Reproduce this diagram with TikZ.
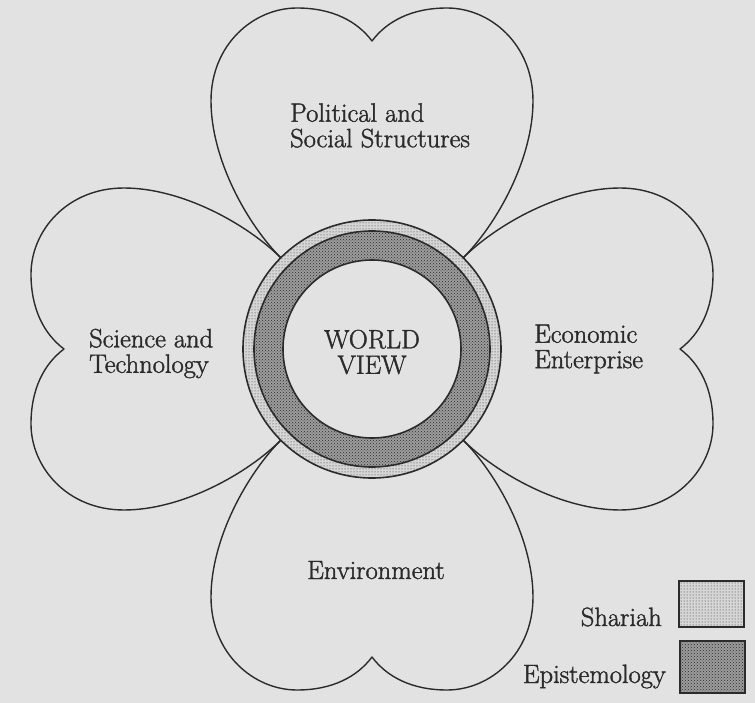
\documentclass[tikz,border=0pt]{standalone}
\usepackage{fontspec}
\setmainfont{Latin Modern Roman}[FakeBold=1.5]
\usetikzlibrary{patterns}
\definecolor{paper}{HTML}{E2E2E2}
\definecolor{ink}{HTML}{2B2B2B}
\tikzstyle{petal} = [draw=ink, line width=1.4pt, line join=round]
\tikzstyle{ring} = [draw=ink, line width=1.6pt]
\tikzstyle{petaltext} = [font=\fontsize{26.5}{25.5}\selectfont, text=ink, align=left, inner sep=0pt]
\tikzstyle{shariah} = [preaction={fill=gray!32}, pattern=dots, pattern color=ink]
\tikzstyle{epistemology} = [preaction={fill=gray!78}, pattern=crosshatch dots, pattern color=ink]
\tikzstyle{legendbox} = [rectangle, draw=ink, line width=1.6pt, minimum width=65pt, inner sep=0pt]

\begin{document}
\begin{tikzpicture}[x=1pt, y=1pt]
	\fill[paper] (0,0) rectangle (755,-703);
	\useasboundingbox (0,0) rectangle (755,-703);
	\coordinate (c) at (372,-349);
	
	\foreach \a in {0,90,180,270}
		\draw[petal, shift={(c)}, rotate=\a] (-91,91) .. controls (-125,125) and (-161,190) .. (-161,248)
			.. controls (-161,305) and (-118,341) .. (-75,341) .. controls (-40,341) and (-15,328) .. (0,308)
			.. controls (15,328) and (40,341) .. (75,341) .. controls (118,341) and (161,305) .. (161,248)
			.. controls (161,190) and (125,125) .. (91,91);
	
	\fill[shariah] (c) circle (129);
	\fill[epistemology] (c) circle (118);
	\fill[paper] (c) circle (89);
	\draw[ring] (c) circle (129) (c) circle (118) (c) circle (89);
	
	\node (n0) [petaltext, align=center] at (372,-352) {WORLD\\VIEW};
	\node (n1) [petaltext, anchor=west] at (290,-125.5) {Political and\\Social Structures};
	\node (n2) [petaltext, anchor=west] at (89,-353.5) {Science and\\Technology};
	\node (n3) [petaltext, anchor=west] at (534,-349) {Economic\\Enterprise};
	\node (n4) [petaltext, anchor=base] at (376,-579) {Environment};
	
	\node (n5) [legendbox, shariah, minimum height=46pt] at (711.5,-604) {};
	\node (n6) [legendbox, epistemology, minimum height=52pt] at (712.5,-667) {};
	\node (n7) [petaltext, anchor=base east] at (662,-626) {Shariah};
	\node (n8) [petaltext, anchor=base east] at (666,-683) {Epistemology};
\end{tikzpicture}
\end{document}
